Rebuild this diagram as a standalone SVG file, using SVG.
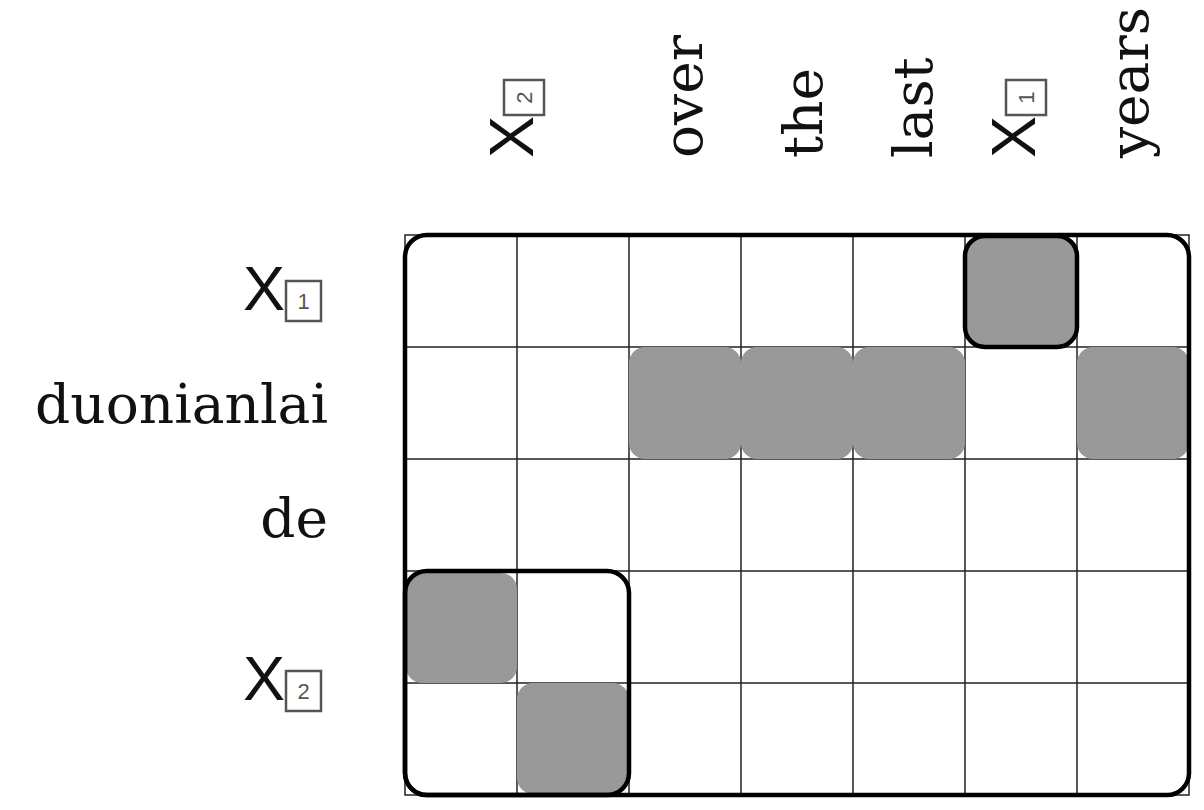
<svg xmlns="http://www.w3.org/2000/svg" width="1204" height="810" viewBox="0 0 1204 810">
  <style>
    .word { font-family: "DejaVu Serif", "Liberation Serif", serif; font-size: 55px; fill: #111; }
    .var { font-family: "Liberation Sans", Arial, sans-serif; font-size: 63px; fill: #111; }
    .idx { font-family: "Liberation Sans", Arial, sans-serif; font-size: 22px; fill: #555; text-anchor: middle; }
    .idxbox { fill: none; stroke: #555; stroke-width: 2.5; }
    .grid { fill: none; stroke: #222; stroke-width: 1.5; }
    .cell { fill: #999; }
    .frame { fill: none; stroke: #000; stroke-width: 4.5; }
  </style>
  <defs>
    <!-- nonterminal X with boxed index, origin at the X baseline -->
    <g id="x1">
      <text class="var" x="0" y="0">X</text>
      <rect class="idxbox" x="43" y="-29" width="35" height="40"/>
      <text class="idx" x="60.5" y="-1">1</text>
    </g>
    <g id="x2">
      <text class="var" x="0" y="0">X</text>
      <rect class="idxbox" x="43" y="-29" width="35" height="40"/>
      <text class="idx" x="60.5" y="-1">2</text>
    </g>
  </defs>
  <rect width="1204" height="810" fill="#fff"/>

  <!-- grid -->
  <g id="grid">
    <rect class="grid" x="405" y="235" width="784" height="560"/>
    <path class="grid" d="M517 235V795M629 235V795M741 235V795M853 235V795M965 235V795M1077 235V795M405 347H1189M405 459H1189M405 571H1189M405 683H1189"/>
  </g>

  <!-- aligned cells -->
  <g id="cells">
    <rect class="cell" x="629" y="347" width="112" height="112" rx="16"/>
    <rect class="cell" x="741" y="347" width="112" height="112" rx="16"/>
    <rect class="cell" x="853" y="347" width="112" height="112" rx="16"/>
    <rect class="cell" x="1077" y="347" width="112" height="112" rx="16"/>
    <rect class="cell" x="406" y="573" width="111" height="110" rx="16"/>
    <rect class="cell" x="517" y="683" width="112" height="111" rx="16"/>
  </g>

  <!-- outer frame and nonterminal blocks -->
  <g id="block-all"><rect class="frame" x="405" y="235" width="784" height="560" rx="22"/></g>
  <g id="block-x1"><rect class="frame" x="965" y="236" width="112" height="111" rx="20" fill="#999" style="fill:#999"/></g>
  <g id="block-x2"><rect class="frame" x="405" y="571" width="224" height="224" rx="22"/></g>

  <!-- source-side labels -->
  <g id="src-x1"><use href="#x1" x="243" y="310"/></g>
  <g id="src-duonianlai"><text class="word" x="328" y="423" text-anchor="end">duonianlai</text></g>
  <g id="src-de"><text class="word" x="328" y="537" text-anchor="end">de</text></g>
  <g id="src-x2"><use href="#x2" x="243" y="700"/></g>

  <!-- target-side labels -->
  <g id="tgt-x2"><use href="#x2" transform="translate(533,158) rotate(-90)"/></g>
  <g id="tgt-over"><text class="word" transform="translate(702,158) rotate(-90)">over</text></g>
  <g id="tgt-the"><text class="word" transform="translate(822,158) rotate(-90)">the</text></g>
  <g id="tgt-last"><text class="word" transform="translate(932,158) rotate(-90)">last</text></g>
  <g id="tgt-x1"><use href="#x1" transform="translate(1035,158) rotate(-90)"/></g>
  <g id="tgt-years"><text class="word" transform="translate(1148,158) rotate(-90)">years</text></g>
</svg>
